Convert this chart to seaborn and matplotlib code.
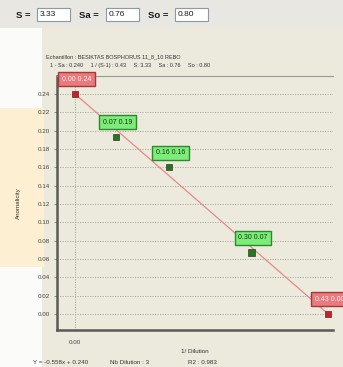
import matplotlib
matplotlib.use("Agg")
import matplotlib.pyplot as plt
import seaborn as sns
import numpy as np
import pandas as pd
from matplotlib.patches import Rectangle

# ---- data ----
x_dilution = [0.00, 0.07, 0.16, 0.30, 0.43]
y_anomal = [0.240, 0.193, 0.160, 0.067, 0.000]
point_kind = ["end", "mid", "mid", "mid", "end"]
label_x = ["0.00", "0.07", "0.16", "0.30", "0.43"]
label_y = ["0.24", "0.19", "0.16", "0.07", "0.00"]
fit_slope = -0.558
fit_intercept = 0.240
y_ticks = [0.00, 0.02, 0.04, 0.06, 0.08, 0.10, 0.12, 0.14, 0.16, 0.18, 0.20, 0.22, 0.24]
x_ticks = [0.00]
params_names = ["S =", "Sa =", "So ="]
params_values = ["3.33", "0.76", "0.80"]
sample_line = "Echantillon : BESIKTAS BOSPHORUS 11_8_10 REBO"
info_line = "1 - Sa : 0.240     1 / (S-1) : 0.43     S: 3.33     Sa : 0.76     So : 0.80"
footer = ["Y = -0.558x + 0.240", "Nb Dilution : 3", "R2 : 0.983"]

sns.set_theme(style="white")
plt.rcParams["font.family"] = ["Liberation Sans", "DejaVu Sans"]

W, H = 343, 367
fig = plt.figure(figsize=(W / 100, H / 100), dpi=100)
fig.patch.set_facecolor("#e8e7e1")

def px(x, y):
    return x / W, 1 - y / H

# background regions
fig.patches.append(Rectangle((0, 0), 1, 1 - 28 / H, transform=fig.transFigure,
                             facecolor="#ece9dd", edgecolor="none", zorder=-10))
fig.patches.append(Rectangle((0, 0), 42 / W, 1 - 28 / H, transform=fig.transFigure,
                             facecolor="#fbfbf9", edgecolor="none", zorder=-9))
fig.patches.append(Rectangle(px(0, 267), 44 / W, (267 - 108) / H, transform=fig.transFigure,
                             facecolor="#fdf0d2", edgecolor="none", zorder=-8))

# top parameter row
name_x = [16, 79, 148]
box_x = [37, 106, 175]
for nm, val, nx, bx in zip(params_names, params_values, name_x, box_x):
    fig.text(*px(nx, 15), nm, fontsize=6.8, color="#1a1a1a", va="center", ha="left",
             fontweight="bold")
    fig.patches.append(Rectangle(px(bx, 21), 33 / W, 13 / H, transform=fig.transFigure,
                                 facecolor="white", edgecolor="#8a9aa8", lw=0.8, zorder=2))
    fig.text(*px(bx + 3, 15), val, fontsize=6.0, color="#1a1a1a", va="center", ha="left",
             zorder=3)

fig.text(*px(46, 57), sample_line, fontsize=4.0, color="#333333", va="center", ha="left")
fig.text(*px(50, 66), info_line, fontsize=4.0, color="#333333", va="center", ha="left")

# axes
ax = fig.add_axes([57 / W, 1 - 330 / H, (333 - 57) / W, (330 - 76) / H])
ax.set_facecolor("#ece9dd")

df = pd.DataFrame({"x": x_dilution, "y": y_anomal, "kind": point_kind})
xs = np.array([min(x_dilution), max(x_dilution)])
fit_df = pd.DataFrame({"x": xs, "y": fit_intercept + fit_slope * xs})
sns.lineplot(data=fit_df, x="x", y="y", ax=ax, color="#e58a8a", lw=0.9, zorder=3)
sns.scatterplot(data=df, x="x", y="y", hue="kind", palette={"end": "#d01e28", "mid": "#1d7a22"},
                marker="s", s=20, edgecolor="#3a1010", linewidth=0.4, ax=ax, legend=False, zorder=4)

for xv, yv, k, lx, ly in zip(x_dilution, y_anomal, point_kind, label_x, label_y):
    if k == "end":
        fc, ec, tc = "#ea7a7e", "#a23a3a", "#fff2f2"
    else:
        fc, ec, tc = "#7eec7a", "#2c8a2c", "#0d3a0d"
    ax.annotate(f"{lx} {ly}", (xv, yv), xytext=(1, 10.5), textcoords="offset points",
                ha="center", va="center", fontsize=5.0, color=tc, zorder=6,
                annotation_clip=False,
                bbox=dict(boxstyle="square,pad=0.5", fc=fc, ec=ec, lw=1.0))

ax.set_xlim(-0.0306, 0.4385)
ax.set_ylim(-0.0175, 0.2596)
ax.set_yticks(y_ticks)
ax.set_yticklabels([f"{t:.2f}" for t in y_ticks], fontsize=4.5, color="#444444")
ax.set_xticks(x_ticks)
ax.set_xticklabels([f"{t:.2f}" for t in x_ticks], fontsize=4.5, color="#444444")
ax.tick_params(axis="y", length=2, width=0.5, color="#666666", pad=3, left=True)
ax.tick_params(axis="x", length=0, pad=7)
ax.grid(True, axis="y", linestyle=(0, (1.5, 1.5)), color="#a8a8a0", lw=0.6)
for xt in x_ticks:
    ax.axvline(xt, linestyle=(0, (1.5, 1.5)), color="#a8a8a0", lw=0.6, zorder=1)
ax.set_xlabel("1/ Dilution", fontsize=4.5, color="#333333", labelpad=3)
ax.set_ylabel("Anomalicity", fontsize=4.5, color="#333333", labelpad=12)

for s in ["left", "bottom"]:
    ax.spines[s].set_color("#5a5a55")
    ax.spines[s].set_linewidth(1.8)
ax.spines["top"].set_color("#9a9a95")
ax.spines["top"].set_linewidth(0.8)
ax.spines["right"].set_visible(False)

fx = [33, 110, 188]
for t, xx in zip(footer, fx):
    fig.text(*px(xx, 362), t, fontsize=4.5, color="#333333", va="center", ha="left")

fig.savefig("out.png", dpi=100, facecolor=fig.get_facecolor())
